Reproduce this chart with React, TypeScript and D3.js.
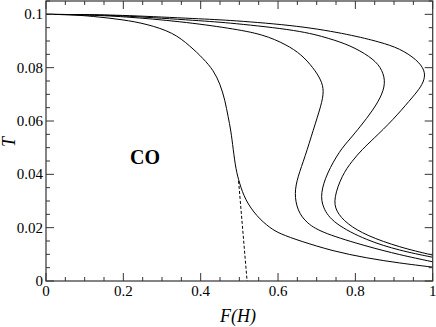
import React from "react";
import * as d3 from "d3";

const xTickValues = [0, 0.2, 0.4, 0.6, 0.8, 1];
const xTickLabels = ["0", "0.2", "0.4", "0.6", "0.8", "1"];
const yTickValues = [0, 0.02, 0.04, 0.06, 0.08, 0.1];
const yTickLabels = ["0", "0.02", "0.04", "0.06", "0.08", "0.1"];

const curve1: [number, number][] = [
  [0, 0.1], [0.06, 0.0999], [0.12, 0.0993], [0.2, 0.098], [0.26, 0.0964], [0.329, 0.0932],
  [0.372, 0.0882], [0.407, 0.0834], [0.433, 0.079], [0.45, 0.074], [0.463, 0.0678],
  [0.471, 0.0615], [0.478, 0.0566], [0.484, 0.0495], [0.491, 0.0418], [0.5, 0.0368],
  [0.515, 0.0304], [0.545, 0.0242], [0.579, 0.0199], [0.605, 0.0177], [0.657, 0.015],
  [0.742, 0.0112], [0.829, 0.0086], [0.915, 0.0067], [1.0, 0.0052],
];
const curve2: [number, number][] = [
  [0, 0.1], [0.1, 0.0998], [0.2, 0.0992], [0.35, 0.0973], [0.476, 0.0948], [0.562, 0.0925],
  [0.622, 0.0886], [0.66, 0.085], [0.691, 0.08], [0.712, 0.0753], [0.719, 0.0712],
  [0.712, 0.066], [0.691, 0.0566], [0.67, 0.0466], [0.651, 0.0391], [0.642, 0.0329],
  [0.65, 0.0264], [0.674, 0.0216], [0.717, 0.0179], [0.829, 0.013], [0.915, 0.0098], [1.0, 0.0072],
];
const curve3: [number, number][] = [
  [0, 0.1], [0.1, 0.0999], [0.2, 0.0995], [0.398, 0.0976], [0.476, 0.0968], [0.657, 0.094],
  [0.734, 0.0909], [0.786, 0.0884], [0.838, 0.0842], [0.866, 0.0803], [0.878, 0.0753],
  [0.871, 0.0703], [0.846, 0.0641], [0.812, 0.0578], [0.786, 0.0532], [0.76, 0.049],
  [0.726, 0.0403], [0.71, 0.0329], [0.715, 0.0275], [0.743, 0.0216], [0.829, 0.0152],
  [0.915, 0.0114], [1.0, 0.0089],
];
const curve4: [number, number][] = [
  [0, 0.1], [0.1, 0.0999], [0.2, 0.0997], [0.398, 0.0983], [0.476, 0.0978], [0.657, 0.0957],
  [0.786, 0.0924], [0.864, 0.0896], [0.915, 0.0872], [0.959, 0.083], [0.98, 0.079],
  [0.979, 0.0755], [0.966, 0.072], [0.941, 0.0678], [0.898, 0.0605], [0.846, 0.0532],
  [0.818, 0.0494], [0.792, 0.0451], [0.765, 0.0396], [0.744, 0.031], [0.749, 0.0262],
  [0.778, 0.0214], [0.829, 0.017], [0.915, 0.0126], [1.0, 0.0097],
];
const dashedLine: [number, number][] = [[0.498, 0.0375], [0.52, 0]];

const W = 436, H = 327;
const L = 46, R = 432.7, T = 1, B = 281;

export default function App() {
  const x = d3.scaleLinear().domain([0, 1]).range([L, R]);
  const y = d3.scaleLinear().domain([0, 0.105]).range([B, T]);
  const line = d3.line<[number, number]>()
    .x((d) => x(d[0]))
    .y((d) => y(d[1]))
    .curve(d3.curveBasis);
  const straight = d3.line<[number, number]>().x((d) => x(d[0])).y((d) => y(d[1]));
  const xMinor = x.ticks(20);
  const yMinor = d3.range(0, 0.1051, 0.005);
  const stroke = "#333";
  return (
    <svg width={W} height={H} style={{ position: "absolute", left: 0, top: 0, fontFamily: "Liberation Serif" }}>
      <style>{"text { font-family: 'Liberation Serif', serif; }"}</style>
      <rect x={0} y={0} width={W} height={H} fill="#fff" />
      {[curve1, curve2, curve3, curve4].map((c, i) => (
        <path key={i} d={line(c) || ""} fill="none" stroke="#000" strokeWidth={1} />
      ))}
      <path d={straight(dashedLine) || ""} fill="none" stroke="#000" strokeWidth={1} strokeDasharray="3,2" />
      {xMinor.map((v, i) => {
        const major = xTickValues.some((t) => Math.abs(t - v) < 1e-9);
        const len = major ? 8 : 4;
        return (
          <g key={"xt" + i} stroke={stroke} strokeWidth={1}>
            <line x1={x(v)} x2={x(v)} y1={B} y2={B - len} />
            <line x1={x(v)} x2={x(v)} y1={T} y2={T + len} />
          </g>
        );
      })}
      {yMinor.map((v, i) => {
        const major = yTickValues.some((t) => Math.abs(t - v) < 1e-9);
        const len = major ? 8 : 4;
        return (
          <g key={"yt" + i} stroke={stroke} strokeWidth={1}>
            <line x1={L} x2={L + len} y1={y(v)} y2={y(v)} />
            <line x1={R} x2={R - len} y1={y(v)} y2={y(v)} />
          </g>
        );
      })}
      <rect x={L} y={T} width={R - L} height={B - T} fill="none" stroke={stroke} strokeWidth={1.2} />
      {xTickValues.map((v, i) => (
        <text key={"xl" + i} x={x(v)} y={296} textAnchor="middle" fontSize={15} fill="#000" style={{ fontFamily: "Liberation Serif" }}>
          {xTickLabels[i]}
        </text>
      ))}
      {yTickValues.map((v, i) => (
        <text key={"yl" + i} x={43} y={y(v) + 5} textAnchor="end" fontSize={15} fill="#000" style={{ fontFamily: "Liberation Serif" }}>
          {yTickLabels[i]}
        </text>
      ))}
      <text x={238} y={322} textAnchor="middle" fontSize={18} fontStyle="italic" fill="#000" style={{ fontFamily: "Liberation Serif" }}>F(H)</text>
      <text transform="translate(15,142) rotate(-90)" textAnchor="middle" fontSize={18} fontStyle="italic" fill="#000" style={{ fontFamily: "Liberation Serif" }}>T</text>
      <text x={145} y={164} textAnchor="middle" fontSize={20} fontWeight="bold" fill="#000" style={{ fontFamily: "Liberation Serif" }}>CO</text>
    </svg>
  );
}
